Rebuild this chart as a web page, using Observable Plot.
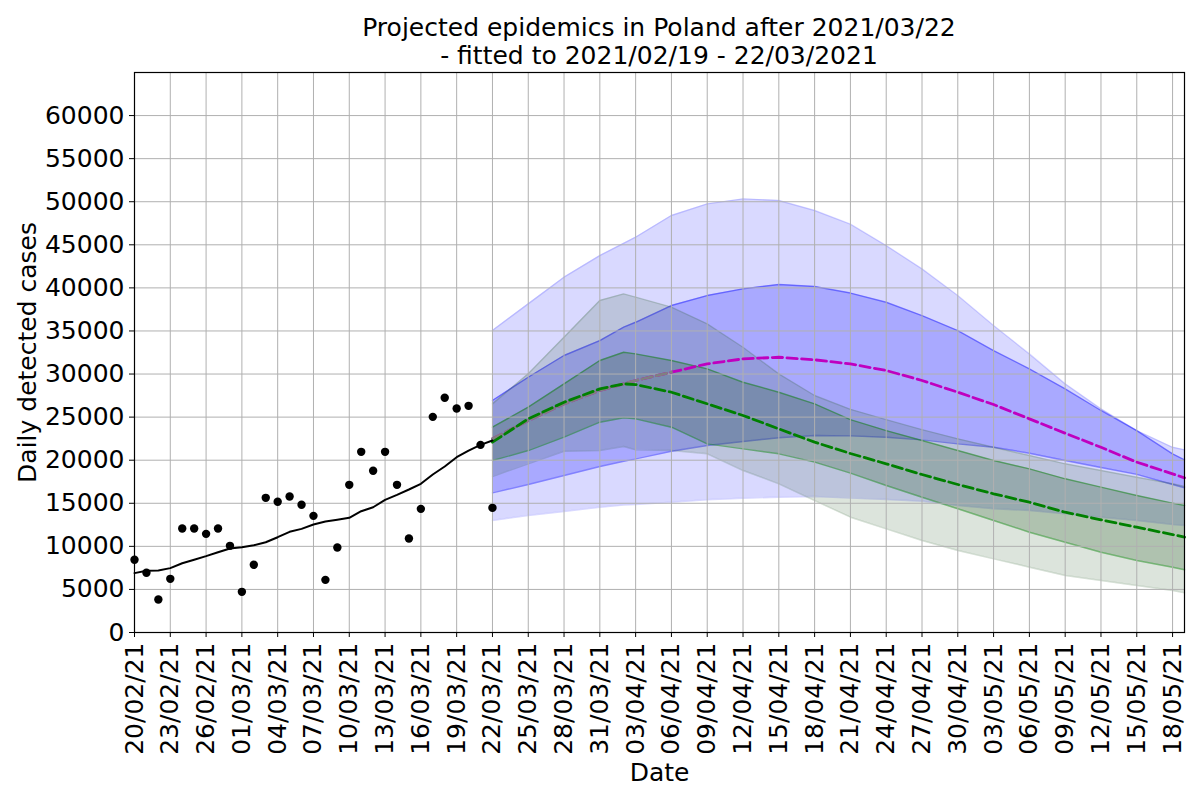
<!DOCTYPE html>
<html><head><meta charset="utf-8">
<script src="https://cdn.jsdelivr.net/npm/d3@7"></script>
<script src="https://cdn.jsdelivr.net/npm/@observablehq/plot@0.6"></script>
<style>
body{margin:0;background:#fff;font-family:"DejaVu Sans",sans-serif;}
#title{box-sizing:border-box;width:1200px;height:71px;padding:14px 16px 0 134px;text-align:center;font-size:25px;line-height:28px;color:#000;}
</style></head><body>
<div id="title">Projected epidemics in Poland after 2021/03/22<br>- fitted to 2021/02/19 - 22/03/2021</div>
<div id="chart"></div>
<script>
// Observed daily cases and 7-day average
const obsDates = ["2021-02-20","2021-02-21","2021-02-22","2021-02-23","2021-02-24","2021-02-25","2021-02-26","2021-02-27","2021-02-28","2021-03-01","2021-03-02","2021-03-03","2021-03-04","2021-03-05","2021-03-06","2021-03-07","2021-03-08","2021-03-09","2021-03-10","2021-03-11","2021-03-12","2021-03-13","2021-03-14","2021-03-15","2021-03-16","2021-03-17","2021-03-18","2021-03-19","2021-03-20","2021-03-21","2021-03-22"];
const observed = [8440,6930,3830,6230,12070,12070,11450,12070,10060,4720,7860,15630,15170,15780,14820,13540,6110,9870,17140,20970,18770,20970,17140,10910,14350,25030,27240,26000,26310,21780,14470];
const average  = [6890,7160,7200,7470,8040,8440,8860,9320,9750,9900,10130,10480,11060,11690,12030,12530,12880,13080,13310,14080,14540,15400,15980,16600,17260,18340,19270,20350,21120,21780,22280];

// Projections
const projDates = ["2021-03-22","2021-03-25","2021-03-28","2021-03-31","2021-04-02","2021-04-03","2021-04-06","2021-04-09","2021-04-12","2021-04-15","2021-04-18","2021-04-21","2021-04-24","2021-04-27","2021-04-30","2021-05-03","2021-05-06","2021-05-09","2021-05-12","2021-05-15","2021-05-18","2021-05-19"];
const blueOuterHigh = [35050,38150,41240,43750,45180,45880,48400,49750,50330,50140,48980,47400,44910,42210,39110,35630,32340,28860,25960,23440,21500,21200];
const blueInnerHigh = [26930,29630,32150,33890,35440,36010,37950,39110,39890,40390,40160,39400,38330,36790,35050,32730,30600,28280,25770,23440,20740,20040];
const blueMedian    = [22480,24600,26540,28090,28860,29250,30210,31180,31760,31950,31650,31180,30410,29250,27890,26460,24800,23130,21500,19770,18420,17950];
const blueInnerLow  = [16210,17180,18220,19270,19880,20160,21040,21700,22170,22600,22860,22820,22670,22360,21900,21500,20810,19960,19150,18350,17180,16790];
const blueOuterLow  = [13000,13580,14040,14540,14780,14860,15120,15400,15590,15700,15780,15600,15440,15240,14740,14360,14160,13780,13380,13000,12530,12420];
const greenOuterHigh = [26540,30020,34280,38530,39300,38920,37760,35830,33110,30020,27510,25900,24700,23540,22480,21500,20540,19580,18800,18020,17260,16940];
const greenInnerHigh = [23830,26150,28860,31570,32530,32340,31570,30600,29050,27890,26540,24700,23440,22280,21120,19960,19000,17840,16870,15900,15010,14740];
const greenMedian    = [22090,24800,26730,28280,28860,28780,27890,26540,25190,23640,22090,20780,19580,18340,17180,16100,15120,13960,13080,12220,11370,11060];
const greenInnerLow  = [19960,21120,22670,24410,24920,24800,23830,21900,21320,20740,19770,18500,17060,15700,14360,13000,11640,10480,9320,8360,7580,7280];
const greenOuterLow  = [18100,19580,21040,21120,21590,21200,21120,20740,18800,17260,15320,13380,12030,10680,9520,8550,7580,6620,6040,5450,4870,4600];

const yTicks = [0,5000,10000,15000,20000,25000,30000,35000,40000,45000,50000,55000,60000];
const xStart = "2021-02-20", xEnd = "2021-05-19";

const parse = d3.utcParse("%Y-%m-%d");
const obs = obsDates.map((d,i)=>({date:parse(d), cases:observed[i], avg:average[i]}));
const proj = projDates.map((d,i)=>({date:parse(d),
  boH:blueOuterHigh[i], biH:blueInnerHigh[i], bm:blueMedian[i], biL:blueInnerLow[i], boL:blueOuterLow[i],
  goH:greenOuterHigh[i], giH:greenInnerHigh[i], gm:greenMedian[i], giL:greenInnerLow[i], goL:greenOuterLow[i]}));
const grayPart = proj.filter(d => d.bm <= d.giH);
const xTicks = d3.utcDay.range(parse(xStart), d3.utcDay.offset(parse(xEnd),0), 3);

const GREEN = "#2f5f2f";
const dash = "10.3,4.4";
const chart = Plot.plot({
  width:1200, height:729, marginTop:1, marginBottom:168, marginLeft:134, marginRight:16,
  style:{fontFamily:"DejaVu Sans", fontSize:"25px", background:"white", overflow:"visible", color:"black"},
  x:{type:"utc", domain:[parse(xStart), parse(xEnd)]},
  y:{domain:[0,65000]},
  marks:[
    Plot.areaY(proj,{x:"date", y1:"boL", y2:"boH", fill:"blue", fillOpacity:0.15}),
    Plot.lineY(proj,{x:"date", y:"boL", stroke:"blue", strokeOpacity:0.15, strokeWidth:1.4}),
    Plot.lineY(proj,{x:"date", y:"boH", stroke:"blue", strokeOpacity:0.15, strokeWidth:1.4}),
    Plot.areaY(proj,{x:"date", y1:"biL", y2:"biH", fill:"blue", fillOpacity:0.22}),
    Plot.lineY(proj,{x:"date", y:"biL", stroke:"blue", strokeOpacity:0.4, strokeWidth:1.4}),
    Plot.lineY(proj,{x:"date", y:"biH", stroke:"blue", strokeOpacity:0.4, strokeWidth:1.4}),
    Plot.areaY(proj,{x:"date", y1:"goL", y2:"goH", fill:GREEN, fillOpacity:0.17}),
    Plot.lineY(proj,{x:"date", y:"goL", stroke:GREEN, strokeOpacity:0.2, strokeWidth:1.4}),
    Plot.lineY(proj,{x:"date", y:"goH", stroke:GREEN, strokeOpacity:0.2, strokeWidth:1.4}),
    Plot.areaY(proj,{x:"date", y1:"giL", y2:"giH", fill:GREEN, fillOpacity:0.26}),
    Plot.lineY(proj,{x:"date", y:"giL", stroke:"green", strokeOpacity:0.45, strokeWidth:1.4}),
    Plot.lineY(proj,{x:"date", y:"giH", stroke:"green", strokeOpacity:0.45, strokeWidth:1.4}),
    Plot.gridX({ticks:xTicks, stroke:"#b0b0b0", strokeOpacity:1, strokeWidth:1}),
    Plot.gridY({ticks:yTicks, stroke:"#b0b0b0", strokeOpacity:1, strokeWidth:1}),
    Plot.lineY(proj,{x:"date", y:"bm", stroke:"#bf00bf", strokeWidth:2.8, strokeDasharray:dash}),
    Plot.lineY(grayPart,{x:"date", y:"bm", stroke:"#808080", strokeWidth:2.8, strokeDasharray:dash}),
    Plot.lineY(proj,{x:"date", y:"gm", stroke:"#008000", strokeWidth:2.8, strokeDasharray:dash}),
    Plot.lineY(obs,{x:"date", y:"avg", stroke:"black", strokeWidth:2}),
    Plot.dot(obs,{x:"date", y:"cases", r:4.2, fill:"black", stroke:"none"}),
    Plot.frame({stroke:"black", strokeWidth:1.2}),
    Plot.axisY({ticks:yTicks, tickFormat:d3.format("d"), tickSize:5, tickPadding:5, fontSize:25, label:null}),
    Plot.axisX({ticks:xTicks, tickFormat:d3.utcFormat("%d/%m/%y"), tickRotate:-90, tickSize:5, tickPadding:5, fontSize:25, label:null}),
    Plot.text(["Daily detected cases"],{frameAnchor:"left", dx:-107, rotate:-90, textAnchor:"middle", lineAnchor:"middle", fontSize:25}),
    Plot.text(["Date"],{frameAnchor:"bottom", dy:140, textAnchor:"middle", lineAnchor:"middle", fontSize:25})
  ]
});
document.getElementById("chart").appendChild(chart);
</script></body></html>
